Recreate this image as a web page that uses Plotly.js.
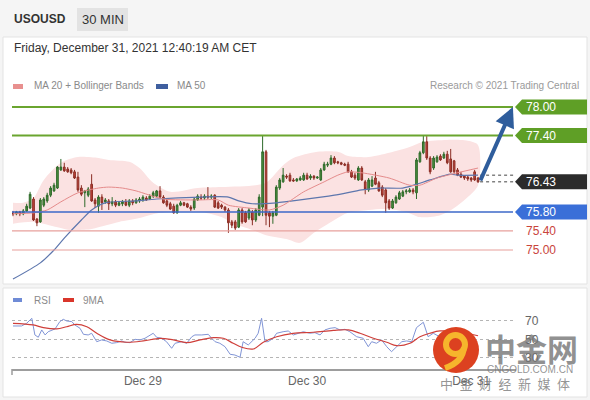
<!DOCTYPE html>
<html>
<head>
<meta charset="utf-8">
<script src="https://cdn.plot.ly/plotly-3.0.1.min.js"></script>
<style>html,body{margin:0;padding:0;background:#f5f5f5;}#chart{width:590px;height:400px;}</style>
</head>
<body>
<div id="chart"></div>
<script>
// ---------- DATA ----------
const symbol = "USOUSD";
const interval = "30 MIN";
const stamp = "Friday, December 31, 2021 12:40:19 AM CET";
const tickVals = [38, 86, 134];
const tickText = ["Dec 29", "Dec 30", "Dec 31"];

const open = [75.78,75.76,75.80,75.76,75.82,75.88,76.07,75.65,75.59,75.94,
76.03,76.15,76.24,76.30,76.68,76.74,76.70,76.68,76.64,76.53,
76.30,76.20,76.15,76.38,76.05,75.92,76.11,76.01,76.03,75.97,
76.01,75.94,75.97,76.01,75.94,76.03,75.99,76.03,76.05,76.09,
76.07,76.13,76.13,76.24,76.11,76.03,75.97,75.92,75.78,75.94,
75.99,75.97,75.90,75.88,76.05,76.11,76.09,76.13,76.11,76.15,
75.99,75.94,75.90,75.84,75.59,75.59,75.48,75.84,75.78,75.67,
75.80,75.63,75.73,75.90,77.06,75.78,75.71,75.73,76.30,76.43,
76.55,76.57,76.47,76.45,76.47,76.47,76.57,76.51,76.55,76.51,
76.47,76.68,76.78,76.80,76.93,76.85,76.83,76.80,76.80,76.64,
76.57,76.47,76.72,76.43,76.26,76.34,76.51,76.41,76.32,76.26,
76.03,75.88,75.99,76.07,76.13,76.22,76.22,76.26,76.20,76.85,
77.04,77.27,76.93,76.72,76.85,76.97,76.93,77.01,76.91,76.87,
76.68,76.59,76.55,76.53,76.51,76.64,76.51];
const high = [75.82,75.82,75.82,75.86,75.97,76.22,76.11,75.67,76.09,76.11,
76.20,76.34,76.41,76.76,76.91,76.83,76.74,76.72,76.68,76.64,
76.36,76.26,76.32,76.59,76.09,76.15,76.17,76.09,76.07,76.11,
76.05,76.03,76.05,76.07,76.07,76.07,76.09,76.11,76.15,76.13,
76.17,76.24,76.26,76.34,76.15,76.07,76.01,75.97,75.97,76.03,
76.01,75.99,75.94,76.09,76.17,76.17,76.17,76.32,76.17,76.17,
76.03,75.97,75.92,75.88,75.63,75.63,75.88,75.88,75.82,75.88,
75.84,75.88,76.17,77.41,77.10,75.82,75.82,76.36,76.51,76.72,
76.59,76.62,76.51,76.51,76.55,76.62,76.62,76.59,76.57,76.55,
76.72,76.85,76.85,76.99,76.97,76.87,76.85,76.83,76.85,76.68,
76.62,76.76,76.76,76.47,76.51,76.55,76.64,76.45,76.36,76.30,
76.07,76.07,76.15,76.24,76.26,76.28,76.30,76.30,76.93,77.08,
77.41,77.39,76.97,76.97,76.99,77.01,77.06,77.08,77.12,76.89,
76.72,76.64,76.57,76.57,76.53,76.68,76.53];
const low = [75.71,75.73,75.71,75.73,75.80,75.86,75.61,75.50,75.57,75.90,
75.99,76.11,76.22,76.28,76.66,76.64,76.62,76.59,76.49,76.22,
76.13,75.90,76.11,76.01,75.88,75.78,75.84,75.97,75.84,75.92,
75.90,75.92,75.92,75.92,75.90,75.94,75.97,75.99,76.01,76.03,
76.05,76.09,76.11,76.09,75.97,75.90,75.84,75.76,75.76,75.92,
75.92,75.88,75.82,75.84,76.03,76.05,76.05,76.07,76.07,75.88,
75.86,75.86,75.80,75.36,75.46,75.42,75.46,75.55,75.57,75.63,
75.52,75.59,75.71,75.71,75.52,75.48,75.55,75.71,76.26,76.41,
76.49,76.43,76.43,76.43,76.45,76.45,76.47,76.47,76.47,76.49,
76.45,76.66,76.74,76.78,76.80,76.80,76.78,76.76,76.62,76.51,
76.47,76.45,76.45,76.17,76.22,76.32,76.36,76.22,76.11,75.78,
75.84,75.86,75.97,76.05,76.11,76.17,76.20,76.17,76.07,76.83,
77.01,76.89,76.59,76.68,76.83,76.87,76.91,76.80,76.62,76.62,
76.55,76.51,76.47,76.45,76.43,76.45,76.41];
const close = [75.76,75.80,75.76,75.82,75.92,76.17,75.63,75.57,76.05,76.07,
76.15,76.30,76.36,76.74,76.74,76.66,76.64,76.62,76.51,76.26,
76.17,76.24,76.28,76.03,75.97,76.11,75.99,76.05,75.97,76.01,
75.94,75.99,76.01,75.94,76.03,75.99,76.05,76.07,76.11,76.05,
76.13,76.20,76.24,76.11,75.99,75.94,75.86,75.78,75.94,75.99,
75.94,75.90,75.86,76.07,76.13,76.09,76.13,76.11,76.13,75.90,
75.88,75.90,75.84,75.57,75.52,75.46,75.84,75.59,75.59,75.84,
75.63,75.84,76.11,77.06,75.73,75.71,75.78,76.32,76.47,76.57,
76.53,76.45,76.45,76.49,76.51,76.57,76.49,76.55,76.51,76.53,
76.68,76.80,76.80,76.93,76.83,76.83,76.80,76.78,76.64,76.53,
76.51,76.72,76.47,76.28,76.47,76.47,76.38,76.24,76.15,75.99,
75.88,76.03,76.11,76.20,76.22,76.24,76.26,76.22,76.89,77.04,
77.27,76.93,76.64,76.93,76.95,76.89,77.01,76.83,76.64,76.64,
76.57,76.53,76.51,76.49,76.47,76.47,76.43];

const ma20X = [0,6,10,14,19,25,28,32,36,44,54,60,63,69,75,79,85,91,95,98,102,110,116,119,124,130,136];
const ma20Y = [75.76,75.78,75.84,76.01,76.20,76.30,76.32,76.30,76.24,76.07,76.05,76.05,75.94,75.88,75.84,75.94,76.22,76.43,76.57,76.64,76.62,76.51,76.36,76.36,76.51,76.62,76.72];
const ma50X = [0,8,12,15,20,23,27,36,42,55,63,66,70,77,84,94,102,107,114,118,122,128,130,136];
const ma50Y = [74.39,74.73,75.00,75.25,75.63,75.84,75.99,76.03,76.07,76.11,76.11,76.03,75.97,75.99,76.05,76.15,76.26,76.30,76.30,76.38,76.47,76.59,76.57,76.57];
const bbUpX = [0,3,6,9,14,19,25,28,34,37,41,46,54,61,71,74,79,82,89,95,98,104,110,116,120,127,133,136];
const bbUpY = [75.99,75.99,76.09,76.47,76.83,76.95,76.93,76.89,76.85,76.72,76.41,76.22,76.30,76.32,76.36,76.41,76.78,76.93,77.06,77.06,76.97,76.95,77.04,77.16,77.27,77.31,77.29,77.20];
const bbLoX = [0,6,13,17,23,25,31,37,43,55,61,64,70,74,80,84,88,94,98,104,109,115,119,125,129,133,136];
const bbLoY = [75.55,75.59,75.48,75.42,75.44,75.48,75.59,75.67,75.78,75.80,75.69,75.57,75.42,75.31,75.23,75.15,75.36,75.63,75.78,75.84,75.86,75.80,75.69,75.73,75.88,76.11,76.36];

const resistances = [78.00, 77.40];
const pivot = 75.80;
const supports = [75.40, 75.00];
const target = 78.00;

const rsiX = [0,2.5,4,5.5,6.4,7.4,8.4,9.4,10.3,11.3,12.3,13.7,14.7,15.7,17.2,18.1,19.6,20.6,22,23,24.5,25.9,27.4,28.9,30.3,31.8,32.7,34.2,35.7,37.1,38.6,41,42,43.5,44.9,46.4,47.4,49.3,50.8,52.3,53.2,55.2,57.1,58.1,59.1,60.5,62,63.5,64.9,66.4,67.3,68.8,70.8,71.7,72.7,73.7,74.6,76.1,77.1,79,80.5,82,83.9,84.9,86.8,88.3,89.8,91.2,92.7,94.2,95.6,97.1,98.5,100.5,102.4,103.9,104.9,106.3,107.8,109.3,110.7,112.2,113.7,115.1,116.6,118,120,121.4,122.9,126.3,130.7,136];
const rsiY = [64.6,64.6,67.5,72.9,54.9,52.4,60.3,54.9,58.4,60.3,61.4,69.3,71.8,70,69.3,65.7,62.1,55.6,54.9,56.7,47.6,49.5,48.4,45.9,46.6,48.4,47,46.6,50.2,49.5,51.3,56.7,52.4,51.3,47.6,40.5,45.9,47.6,45.9,53,54.9,54.9,55.6,51.3,47.6,45.9,42.2,34,33.2,30.8,47.6,44.1,51.3,56.7,72.9,47.6,47.6,51.3,56.7,58.4,59.2,54.9,56.7,58.4,56.7,57.4,54.9,60.3,62.1,62.8,60.3,61,58.4,53,51.3,42.2,47.6,45.9,49.5,42.2,36.8,42.2,47.6,48.4,47.6,62.8,68.6,53,56.7,50,44,40];
const rsiMaX = [0,5.9,8.9,12.8,15.7,18.6,21.6,24.5,28.4,33.3,38.1,43,46.9,50.8,54.7,58.6,61.5,64.4,66.9,70.3,73.2,77.1,81.9,87.8,93.7,98.1,101.5,105.4,109.3,112.2,116.1,119,121.9,124.9,130.7,136];
const rsiMaY = [67.5,65.7,62.8,61.4,63.8,66.4,63.8,56.7,49.5,47,48.4,51.3,49.5,46.6,49.5,52,51.3,45.9,41.6,39.7,47,53,56.7,57.8,59.9,60.3,56.7,51.3,47,43.3,45.9,53,56.7,59.2,58,54];
const rsiLevels = [30, 50, 70];

// ---------- LAYOUT HELPERS ----------
const W = 590, H = 400;
const X = p => p / W;
const Y = p => 1 - p / H;
const FONT = "Liberation Sans, Arial, sans-serif";
const idx = close.map((_, i) => i);
const lastI = idx[idx.length - 1];
const lastClose = close[close.length - 1];
const xRange = [-0.29, 147.1];
const yRange = [74.329, 78.2517];

const shapes = [];
const annotations = [];
function rect(x0, y0, x1, y1, fill, line, layer) {
  shapes.push({type: "rect", xref: "paper", yref: "paper", x0: X(x0), x1: X(x1), y0: Y(y1), y1: Y(y0),
    fillcolor: fill, line: {color: line || fill, width: line ? 1 : 0}, layer: layer || "below"});
}
function txt(x, y, t, size, color, anchor, extra) {
  annotations.push(Object.assign({xref: "paper", yref: "paper", x: X(x), y: Y(y), text: t, showarrow: false,
    xanchor: anchor || "left", yanchor: "middle", font: {family: FONT, size: size, color: color}}, extra || {}));
}
function hline(level, color, width) {
  shapes.push({type: "line", xref: "paper", yref: "y", x0: X(12), x1: X(513), y0: level, y1: level,
    line: {color: color, width: width}, layer: "above"});
}
function tag(level, fill, label) {
  shapes.push({type: "path", xref: "paper", yref: "y", xsizemode: "pixel", ysizemode: "pixel",
    xanchor: X(515), yanchor: level, path: "M0,0 L7,7.5 L72,7.5 L72,-7.5 L7,-7.5 Z",
    fillcolor: fill, line: {width: 0}, layer: "above"});
  annotations.push({xref: "paper", yref: "y", x: X(524), y: level, text: label, showarrow: false,
    xanchor: "left", yanchor: "middle", font: {family: FONT, size: 12, color: "#ffffff"}});
}

// panels
rect(3, 37, 587, 284, "#ffffff", "#e3e3e3");
rect(3, 288, 587, 397, "#ffffff", "#e3e3e3");
rect(77, 8, 128, 31, "#e3e3e3");
// small left tick of the RSI time axis
shapes.push({type: "line", xref: "paper", yref: "paper", x0: X(12), x1: X(12), y0: Y(369), y1: Y(375),
  line: {color: "#9d9d9d", width: 1.5}, layer: "below"});

// header text
txt(12, 19, "<b>" + symbol + "</b>", 12, "#333333");
txt(102.5, 19.5, interval, 13, "#333333", "center");
txt(12, 48, stamp, 12, "#333333");
// legends
rect(13, 84, 23, 89, "#e8908f");
txt(32, 86, "MA 20 + Bollinger Bands", 10, "#8a8a8a");
rect(156, 84, 168, 89, "#3f5f9f");
txt(175, 86, "MA 50", 10, "#8a8a8a");
txt(581, 86, "Research \u00a9 2021 Trading Central", 10, "#9a9a9a", "right");
rect(13, 298, 22, 302, "#6f8bd6");
txt(32, 300, "RSI", 10, "#8a8a8a");
rect(63, 298, 74, 302, "#d9362b");
txt(81, 300, "9MA", 10, "#8a8a8a");

// level lines and tags
resistances.forEach(v => { hline(v, "#6aa52f", 2); tag(v, "#5f9f26", v.toFixed(2)); });
hline(pivot, "#3d68c9", 1.5); tag(pivot, "#3a6fd8", pivot.toFixed(2));
supports.forEach(v => {
  hline(v, "#e7a09c", 1.2);
  annotations.push({xref: "paper", yref: "y", x: X(524), y: v, text: v.toFixed(2), showarrow: false,
    xanchor: "left", yanchor: "middle", font: {family: FONT, size: 12, color: "#c9443c"}});
});
// last price dotted leaders + tag
[lastClose, ma50Y[ma50Y.length - 1]].forEach(v => {
  shapes.push({type: "line", xref: "x", yref: "y", x0: lastI + 0.6, x1: xRange[1], y0: v, y1: v,
    line: {color: "#444", width: 1, dash: "dot"}, layer: "above"});
});
tag(lastClose, "#2b2b2b", lastClose.toFixed(2));

// projection arrow
annotations.push({xref: "x", yref: "y", axref: "x", ayref: "y", x: 146.2, y: target, ax: lastI + 0.5, ay: lastClose,
  text: "", showarrow: true, arrowhead: 2, arrowsize: 1, arrowwidth: 4, arrowcolor: "#2f5d9c"});

// watermark logo
shapes.push({type: "circle", xref: "paper", yref: "paper", x0: X(433), x1: X(479), y0: Y(373), y1: Y(327),
  fillcolor: "#dc4120", line: {width: 0}, layer: "above"});
shapes.push({type: "circle", xref: "paper", yref: "paper", x0: X(446), x1: X(465), y0: Y(354), y1: Y(335),
  fillcolor: "rgba(0,0,0,0)", line: {color: "#f6b52c", width: 6}, layer: "above"});
const tailPts = [[464, 347], [463, 362], [445, 368]];
shapes.push({type: "path", xref: "paper", yref: "paper",
  path: "M" + X(tailPts[0][0]) + "," + Y(tailPts[0][1]) + " Q" + X(tailPts[1][0]) + "," + Y(tailPts[1][1]) + " " + X(tailPts[2][0]) + "," + Y(tailPts[2][1]),
  line: {color: "#f6b52c", width: 6}, layer: "above"});
txt(531, 347, "<b>中金网</b>", 31, "rgba(115,115,115,0.78)", "center", {font: {family: "Noto Sans CJK SC", size: 31, color: "rgba(115,115,115,0.78)"}});
txt(530, 369, "CNGOLD.COM.CN", 10, "rgba(120,120,120,0.8)", "center");
txt(505, 383, "中\u2002金\u2002财\u2002经\u2002新\u2002媒\u2002体", 13, "rgba(120,120,120,0.8)", "center", {font: {family: "Noto Sans CJK SC", size: 13, color: "rgba(120,120,120,0.8)"}});

// ---------- TRACES ----------
const traces = [
  {type: "scatter", mode: "lines", x: bbUpX.concat(bbLoX.slice().reverse()), y: bbUpY.concat(bbLoY.slice().reverse()),
   fill: "toself", fillcolor: "#fbe2e2", line: {width: 0, shape: "spline", smoothing: 0.8}, xaxis: "x", yaxis: "y", hoverinfo: "skip"},
  {type: "candlestick", x: idx, open: open, high: high, low: low, close: close, xaxis: "x", yaxis: "y3",
   increasing: {line: {color: "#2e6a2a", width: 1}, fillcolor: "#4e8f3e"},
   decreasing: {line: {color: "#8a2d24", width: 1}, fillcolor: "#c2453b"}, whiskerwidth: 0},
  {type: "scatter", mode: "lines", x: ma50X, y: ma50Y, line: {color: "#5d76ad", width: 1.2, shape: "spline", smoothing: 0.7}, xaxis: "x", yaxis: "y3"},
  {type: "scatter", mode: "lines", x: ma20X, y: ma20Y, line: {color: "#e58b8b", width: 1, shape: "spline", smoothing: 0.7}, xaxis: "x", yaxis: "y3"},
  {type: "scatter", mode: "lines", x: rsiX, y: rsiY, line: {color: "#8195d6", width: 1}, xaxis: "x2", yaxis: "y2"},
  {type: "scatter", mode: "lines", x: rsiMaX, y: rsiMaY, line: {color: "#cf3f3a", width: 1.2, shape: "spline"}, xaxis: "x2", yaxis: "y2"}
];

const layout = {
  width: W, height: H, autosize: false,
  margin: {l: 0, r: 0, t: 0, b: 0},
  paper_bgcolor: "#f5f5f5", plot_bgcolor: "rgba(0,0,0,0)",
  showlegend: false,
  font: {family: FONT},
  xaxis: {domain: [X(12), X(516)], range: xRange, visible: false, anchor: "y", rangeslider: {visible: false}, fixedrange: true},
  yaxis: {domain: [Y(282), Y(95)], range: yRange, visible: false, anchor: "x", fixedrange: true},
  yaxis3: {overlaying: "y", range: yRange, visible: false, anchor: "x", fixedrange: true},
  xaxis2: {domain: [X(12), X(516)], range: xRange, anchor: "y2", showline: true, linecolor: "#9d9d9d", linewidth: 2,
    tickvals: tickVals, ticktext: tickText, ticks: "", showgrid: false, zeroline: false,
    tickfont: {family: FONT, size: 12, color: "#666666"}, rangeslider: {visible: false}},
  yaxis2: {domain: [Y(369), Y(312)], range: [18.1, 79.7], anchor: "x2", side: "right", tickvals: rsiLevels,
    showgrid: true, gridcolor: "#b5b5b5", griddash: "dot", gridwidth: 1, zeroline: false, showline: false, ticks: "",
    ticklabelstandoff: 8, tickfont: {family: FONT, size: 12, color: "#666666"}},
  shapes: shapes,
  annotations: annotations
};

Plotly.newPlot("chart", traces, layout, {displayModeBar: false, staticPlot: true});
</script>
</body>
</html>
